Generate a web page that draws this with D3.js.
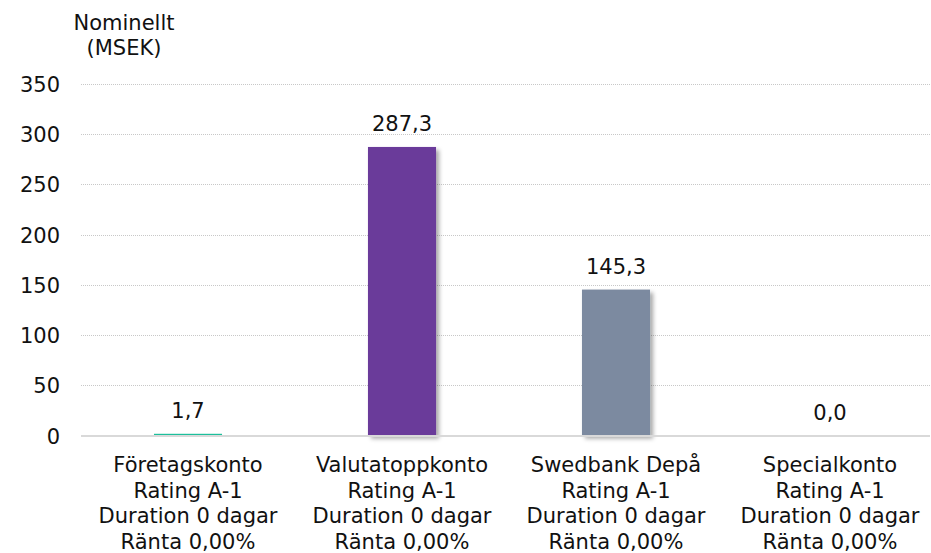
<!DOCTYPE html>
<html><head><meta charset="utf-8">
<script src="https://cdn.jsdelivr.net/npm/d3@7"></script>
<style>
html,body{margin:0;padding:0;background:#fff;}
svg{display:block;font-family:"DejaVu Sans",Verdana,sans-serif;}
</style></head>
<body>
<div id="chart"></div>
<script>
const categories = ["Företagskonto", "Valutatoppkonto", "Swedbank Depå", "Specialkonto"];
const ratings = ["Rating A-1", "Rating A-1", "Rating A-1", "Rating A-1"];
const durations = ["Duration 0 dagar", "Duration 0 dagar", "Duration 0 dagar", "Duration 0 dagar"];
const rates = ["Ränta 0,00%", "Ränta 0,00%", "Ränta 0,00%", "Ränta 0,00%"];
const values = [1.7, 287.3, 145.3, 0.0];
const colors = ["#1dbf9c", "#6a3a9a", "#7b8aa0", "#999999"];
const yTicks = [0, 50, 100, 150, 200, 250, 300, 350];
const titleLines = ["Nominellt", "(MSEK)"];

const W = 931, H = 553;
const svg = d3.select("#chart").append("svg").attr("width", W).attr("height", H);

const defs = svg.append("defs");
const f = defs.append("filter").attr("id", "shadow").attr("x", "-20%").attr("y", "-20%").attr("width", "150%").attr("height", "150%");
f.append("feDropShadow").attr("dx", 3).attr("dy", 3).attr("stdDeviation", 2).attr("flood-color", "#000").attr("flood-opacity", 0.35);

const x = d3.scaleBand().domain(categories).range([81, 937]).paddingInner(0.682).paddingOuter(0.341);
const y = d3.scaleLinear().domain([0, 350]).range([435.5, 84]);
const gridRight = 930;

// gridlines
svg.append("g").selectAll("line").data(yTicks.filter(d => d > 0)).join("line")
  .attr("x1", 81).attr("x2", gridRight)
  .attr("y1", d => Math.round(y(d)) + 0.5).attr("y2", d => Math.round(y(d)) + 0.5)
  .attr("stroke", "#c8c8c8").attr("stroke-width", 1).attr("stroke-dasharray", "1,1");

// y axis labels via d3 axis
const yAxis = d3.axisLeft(y).tickValues(yTicks).tickSize(0).tickPadding(0).tickFormat(d3.format("d"));
const yg = svg.append("g").attr("transform", "translate(60,0)").call(yAxis);
yg.select(".domain").remove();
yg.selectAll("text").attr("font-size", 21).attr("fill", "#111").attr("font-family", "DejaVu Sans, Verdana, sans-serif").attr("dy", "0.36em");

// bars
svg.append("g").selectAll("rect").data(values).join("rect")
  .attr("x", (d, i) => x(categories[i]))
  .attr("width", x.bandwidth())
  .attr("y", d => y(d))
  .attr("height", d => y(0) - y(d))
  .attr("fill", (d, i) => colors[i])
  .attr("filter", d => d > 10 ? "url(#shadow)" : null);

// baseline
svg.append("line").attr("x1", 81).attr("x2", gridRight).attr("y1", y(0) + 0.5).attr("y2", y(0) + 0.5)
  .attr("stroke", "#d9d9d9").attr("stroke-width", 2);

// value labels
svg.append("g").selectAll("text").data(values).join("text")
  .attr("x", (d, i) => x(categories[i]) + x.bandwidth() / 2)
  .attr("y", d => y(d) - 15.5)
  .attr("text-anchor", "middle").attr("font-size", 21).attr("fill", "#111")
  .text(d => d3.format(".1f")(d).replace(".", ","));

// category labels
const cg = svg.append("g");
categories.forEach((c, i) => {
  const lines = [c, ratings[i], durations[i], rates[i]];
  const t = cg.append("text").attr("text-anchor", "middle").attr("font-size", 21).attr("fill", "#111");
  lines.forEach((l, j) => {
    t.append("tspan").attr("x", x(c) + x.bandwidth() / 2).attr("y", 472 + j * 25.6).text(l);
  });
});

// title
const tt = svg.append("text").attr("text-anchor", "middle").attr("font-size", 21).attr("fill", "#111");
titleLines.forEach((l, j) => tt.append("tspan").attr("x", 124).attr("y", 30 + j * 25).text(l));
</script>
</body></html>
